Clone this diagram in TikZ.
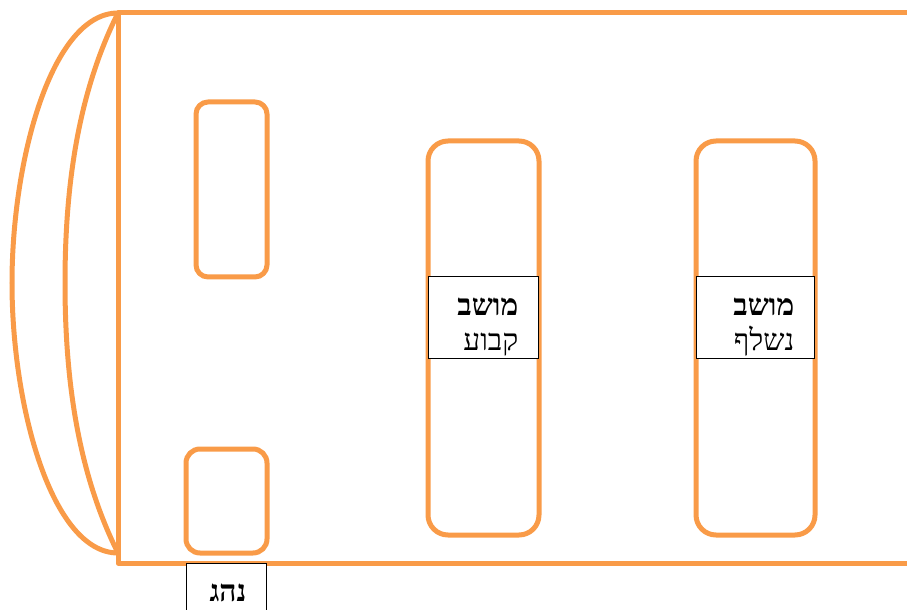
\documentclass[tikz,border=0pt]{standalone}
\usepackage{fontspec}
\newfontfamily\hebfont[Script=Hebrew]{Liberation Serif}
\TeXXeTstate=1
\definecolor{seatorange}{HTML}{F99B48}
\tikzset{
	busline/.style={draw=seatorange, line width=0.05cm, line join=round, line cap=round},
	labelbox/.style={draw=black, line width=0.25pt, fill=white, minimum height=0.82cm, inner sep=0pt},
	labeltext/.style={inner sep=0pt, align=right, anchor=east, font=\hebfont\fontsize{8.5}{10.2}\selectfont},
}
\begin{document}
\begin{tikzpicture}
	\useasboundingbox (0,0) rectangle (9.07,6.09);

	% bus outline
	\draw[busline] (9.07,5.96) -- (1.18,5.96) -- (1.18,0.46) -- (9.07,0.46);
	\draw[busline] (1.18,5.96) .. controls (0.52,5.96) and (0.12,4.5) .. (0.12,3.26) .. controls (0.12,2.02) and (0.52,0.56) .. (1.18,0.56);
	\draw[busline] (1.18,5.96) .. controls (0.8,5.2) and (0.65,4.3) .. (0.65,3.26) .. controls (0.65,2.22) and (0.8,1.32) .. (1.18,0.56);

	% front seats
	\draw[busline, rounded corners=0.12cm] (1.96,5.07) rectangle (2.67,3.32);
	\draw[busline, rounded corners=0.14cm] (1.86,1.6) rectangle (2.67,0.56);

	% rows
	\draw[busline, rounded corners=0.2cm] (4.28,4.68) rectangle (5.39,0.74);
	\draw[busline, rounded corners=0.2cm] (6.96,4.68) rectangle (8.15,0.74);

	% labels
	\node[labelbox, minimum width=1.10cm] (fixedseat) at (4.83,2.92) {};
	\node[labeltext] (fixedtext) at (5.19,2.82) {\textbf{\beginR מושב\endR}\\\beginR קבוע\endR};
	\node[labelbox, minimum width=1.18cm] (foldseat) at (7.55,2.92) {};
	\node[labeltext] (foldtext) at (7.95,2.82) {\textbf{\beginR מושב\endR}\\\beginR נשלף\endR};
	\node[labelbox, minimum width=0.80cm, minimum height=0.56cm] (driverbox) at (2.26,0.18) {};
	\node[labeltext] (drivertext) at (2.47,0.16) {\textbf{\beginR נהג\endR}};

\end{tikzpicture}
\end{document}
